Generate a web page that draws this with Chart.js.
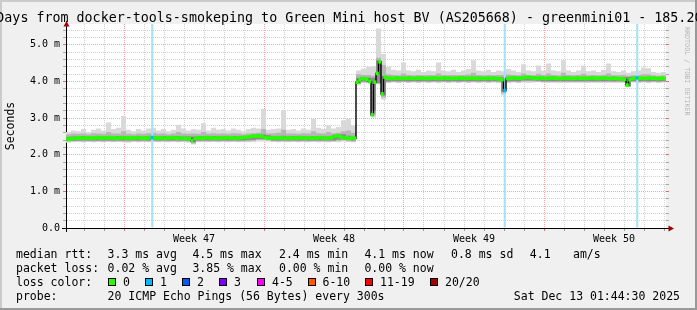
<!DOCTYPE html>
<html><head><meta charset="utf-8">
<script src="https://cdn.jsdelivr.net/npm/chart.js@4.4.1/dist/chart.umd.min.js"></script>
<style>
html,body{margin:0;padding:0;background:#f0f0f0;overflow:hidden;}
#wrap{position:relative;width:697px;height:310px;overflow:hidden;}
#c{position:absolute;left:0;top:0;}
.t{position:absolute;font-family:'DejaVu Sans Mono',monospace;color:#000;white-space:pre;}
.sw{position:absolute;width:7px;height:7px;border:1px solid #000;}
</style></head><body>
<div id="wrap"><canvas id="c" width="697" height="310"></canvas></div>
<script>
// ---------------- data ----------------
const titleText = 'Days from docker-tools-smokeping to Green Mini host BV (AS205668) - greenmini01 - 185.20';
const yAxisTitle = 'Seconds';
const weekLabels = ['Week 47', 'Week 48', 'Week 49', 'Week 50'];

// median RTT (ms), 240 samples over 30 days
const medianRtt = [
2.43,2.43,2.44,2.45,2.45,2.46,2.45,2.46,2.46,2.45,
2.46,2.46,2.47,2.46,2.45,2.46,2.46,2.47,2.46,2.46,
2.45,2.46,2.47,2.46,2.46,2.45,2.46,2.46,2.47,2.46,
2.46,2.45,2.46,2.47,2.47,2.46,2.45,2.46,2.46,2.45,
2.46,2.46,2.47,2.46,2.45,2.46,2.45,2.44,2.45,2.44,
2.38,2.45,2.46,2.46,2.45,2.46,2.47,2.46,2.46,2.45,
2.46,2.45,2.46,2.46,2.47,2.46,2.46,2.45,2.46,2.46,
2.47,2.48,2.48,2.49,2.51,2.51,2.51,2.51,2.50,2.47,
2.46,2.45,2.46,2.46,2.47,2.46,2.46,2.45,2.46,2.46,
2.45,2.46,2.46,2.47,2.46,2.45,2.46,2.46,2.45,2.46,
2.46,2.47,2.46,2.46,2.45,2.46,2.47,2.51,2.52,2.49,
2.47,2.46,2.46,2.45,2.46,2.45,
3.98,4.05,4.08,4.08,4.06,4.00,3.09,3.98,4.22,4.54,3.66,4.12,
4.09,4.09,4.08,4.09,4.10,4.09,4.08,4.09,4.09,4.10,
4.09,4.08,4.09,4.09,4.10,4.09,4.08,4.09,4.10,4.09,
4.09,4.08,4.09,4.10,4.09,4.09,4.08,4.09,4.09,4.10,
4.09,4.08,4.09,4.09,4.10,4.09,4.08,4.09,4.09,4.08,
4.09,4.09,4.08,4.09,4.08,4.07,4.05,
3.75,
4.08,4.09,4.09,4.10,4.09,4.09,4.10,4.11,4.12,4.11,
4.10,4.09,4.09,4.10,4.09,4.08,4.09,4.09,4.10,4.09,
4.09,4.08,4.09,4.10,4.09,4.09,4.08,4.09,4.10,4.09,
4.09,4.08,4.09,4.09,4.10,4.09,4.08,4.09,4.09,4.10,
4.09,4.08,4.09,4.09,4.08,4.08,4.07,4.06,
3.90,
4.05,4.08,4.09,4.10,4.09,4.09,4.08,4.09,4.10,4.09,4.09,4.08,4.09,4.09,4.08
];
// median samples that lost 1 of 20 pings
const lossSamples = [34, 175, 228];

// smoke (ms), 120 samples over 30 days
const smokeMax = [
2.62,2.66,2.64,2.70,2.62,2.68,2.72,2.66,2.88,2.70,
2.74,3.06,2.68,2.64,2.70,2.66,2.72,2.74,2.66,2.70,
2.64,2.68,2.82,2.72,2.66,2.70,2.68,2.86,2.66,2.74,
2.68,2.70,2.66,2.72,2.68,2.64,2.70,2.74,2.72,3.25,
2.68,2.70,2.72,3.22,2.68,2.70,2.66,2.72,2.68,2.98,
2.74,2.70,2.80,2.72,2.76,2.94,2.98,2.80,
4.30,4.35,4.40,4.42,5.45,4.75,4.40,4.32,4.30,4.52,
4.30,4.28,4.32,4.26,4.30,4.28,4.52,4.30,4.28,4.32,
4.26,4.30,4.34,4.58,4.30,4.28,4.32,4.26,4.30,4.28,
4.34,4.30,4.26,4.47,4.30,4.28,4.44,4.30,4.49,4.30,
4.28,4.58,4.30,4.26,4.30,4.44,4.28,4.30,4.26,4.32,
4.49,4.28,4.26,4.30,4.24,4.28,4.30,4.38,4.36,4.26,
4.24,4.26
];
const smokeHigh = [
2.56,2.58,2.57,2.58,2.56,2.59,2.58,2.57,2.62,2.58,
2.58,2.64,2.57,2.56,2.58,2.57,2.59,2.60,2.57,2.58,
2.56,2.58,2.62,2.58,2.57,2.58,2.57,2.62,2.57,2.59,
2.57,2.58,2.57,2.59,2.58,2.56,2.58,2.59,2.60,2.70,
2.58,2.59,2.60,2.68,2.58,2.58,2.57,2.59,2.58,2.64,
2.59,2.58,2.62,2.59,2.60,2.64,2.66,2.60,
4.20,4.18,4.18,4.16,4.65,4.45,4.20,4.18,4.17,4.22,
4.18,4.17,4.18,4.17,4.18,4.17,4.22,4.18,4.17,4.18,
4.17,4.18,4.19,4.24,4.18,4.17,4.18,4.17,4.18,4.18,
4.19,4.18,4.17,4.22,4.18,4.17,4.21,4.18,4.22,4.18,
4.17,4.24,4.18,4.17,4.18,4.21,4.17,4.18,4.17,4.18,
4.22,4.17,4.17,4.18,4.16,4.17,4.18,4.20,4.20,4.17,
4.16,4.17
];
const smokeCoreHigh = [
2.49,2.50,2.50,2.51,2.50,2.50,2.51,2.50,2.51,2.50,
2.51,2.51,2.50,2.50,2.51,2.50,2.51,2.51,2.50,2.51,
2.50,2.51,2.51,2.50,2.50,2.50,2.51,2.51,2.50,2.51,
2.50,2.51,2.50,2.51,2.50,2.50,2.51,2.53,2.55,2.55,
2.53,2.51,2.51,2.52,2.50,2.51,2.50,2.51,2.50,2.51,
2.51,2.51,2.50,2.51,2.55,2.56,2.52,2.50,
4.10,4.12,4.11,4.10,4.58,4.15,4.13,4.12,4.12,4.13,
4.12,4.12,4.13,4.12,4.12,4.13,4.12,4.12,4.13,4.12,
4.12,4.13,4.12,4.12,4.13,4.12,4.12,4.13,4.12,4.12,
4.13,4.12,4.12,4.14,4.15,4.14,4.13,4.12,4.12,4.13,
4.12,4.12,4.13,4.12,4.12,4.13,4.12,4.12,4.13,4.12,
4.12,4.13,4.12,4.12,4.12,4.13,4.12,4.12,4.13,4.12,
4.12,4.12
];
const smokeCoreLow = [
2.38,2.38,2.39,2.39,2.39,2.39,2.39,2.39,2.39,2.39,
2.39,2.39,2.39,2.39,2.39,2.39,2.39,2.39,2.39,2.39,
2.39,2.39,2.39,2.39,2.38,2.34,2.39,2.39,2.39,2.39,
2.39,2.39,2.39,2.39,2.39,2.39,2.40,2.41,2.43,2.43,
2.42,2.39,2.39,2.39,2.39,2.39,2.39,2.39,2.39,2.39,
2.39,2.39,2.39,2.39,2.41,2.42,2.40,2.39,
3.95,4.00,3.99,3.20,3.96,3.62,4.00,4.01,4.01,4.01,
4.01,4.01,4.01,4.01,4.01,4.01,4.01,4.01,4.01,4.01,
4.01,4.01,4.01,4.01,4.01,4.01,4.01,4.01,4.01,3.72,
4.01,4.01,4.01,4.03,4.03,4.03,4.02,4.01,4.01,4.01,
4.01,4.01,4.01,4.01,4.01,4.01,4.01,4.01,4.01,4.01,
4.01,4.01,4.01,4.01,3.87,4.01,4.01,4.01,4.01,4.01,
4.01,4.01
];
const smokeLow = [
2.36,2.37,2.37,2.36,2.37,2.36,2.37,2.36,2.37,2.36,
2.37,2.36,2.36,2.37,2.36,2.37,2.36,2.37,2.36,2.37,
2.36,2.37,2.36,2.37,2.36,2.31,2.36,2.37,2.36,2.37,
2.36,2.37,2.36,2.37,2.36,2.37,2.37,2.38,2.40,2.40,
2.39,2.37,2.36,2.37,2.36,2.37,2.36,2.37,2.36,2.37,
2.36,2.37,2.36,2.37,2.38,2.39,2.37,2.36,
3.93,3.98,3.97,3.10,3.94,3.56,3.98,3.99,3.98,3.99,
3.98,3.99,3.98,3.99,3.98,3.99,3.98,3.99,3.98,3.99,
3.98,3.99,3.98,3.99,3.98,3.99,3.98,3.99,3.98,3.68,
3.98,3.99,3.98,4.00,4.01,4.00,3.99,3.98,3.99,3.98,
3.99,3.98,3.99,3.98,3.99,3.98,3.99,3.98,3.99,3.98,
3.99,3.98,3.99,3.98,3.86,3.99,3.98,3.99,3.98,3.99,
3.98,3.99
];
const smokeMin = [
2.33,2.34,2.35,2.34,2.35,2.34,2.35,2.34,2.35,2.34,
2.35,2.34,2.33,2.35,2.34,2.35,2.34,2.35,2.34,2.35,
2.34,2.35,2.34,2.35,2.33,2.28,2.34,2.35,2.34,2.35,
2.34,2.35,2.34,2.35,2.34,2.35,2.34,2.35,2.36,2.36,
2.36,2.35,2.34,2.35,2.34,2.35,2.34,2.35,2.34,2.35,
2.34,2.35,2.34,2.35,2.34,2.36,2.35,2.34,
3.90,3.96,3.95,3.02,3.92,3.50,3.96,3.97,3.96,3.97,
3.96,3.97,3.96,3.97,3.96,3.97,3.96,3.97,3.96,3.97,
3.96,3.97,3.96,3.97,3.96,3.97,3.96,3.97,3.96,3.62,
3.96,3.97,3.96,3.97,3.96,3.97,3.98,3.97,3.96,3.97,
3.96,3.97,3.96,3.97,3.96,3.97,3.96,3.97,3.96,3.97,
3.96,3.97,3.96,3.97,3.84,3.97,3.96,3.97,3.96,3.97,
3.96,3.97
];

// legend texts
const rttStats = ['3.3 ms avg', '4.5 ms max', '2.4 ms min', '4.1 ms now', '0.8 ms sd', '4.1', 'am/s'];
const lossStats = ['0.02 % avg', '3.85 % max', '0.00 % min', '0.00 % now'];
const lossBuckets = ['0', '1', '2', '3', '4-5', '6-10', '11-19', '20/20'];
const lossColors = ['#26ff00', '#00b8ff', '#0059ff', '#7e00ff', '#ff00ff', '#ff5500', '#ff0000', '#a10000'];
const probeText = '20 ICMP Echo Pings (56 Bytes) every 300s';
const stampText = 'Sat Dec 13 01:44:30 2025';
const creditText = 'RRDTOOL / TOBI OETIKER';

// ---------------- axis setup ----------------
const DAYS = 30;          // window length (days)
const Y_MAX = 5.57;       // ms
const FIRST_MIDNIGHT = 0.9;  // days from window start
const FIRST_MONDAY = 2.9;
const r2 = v => Math.round(v * 100) / 100;
const dayTicks = []; for (let d = FIRST_MIDNIGHT; d < DAYS; d += 1) dayTicks.push(r2(d));
const weekCenters = weekLabels.map((_, k) => r2(FIRST_MONDAY + 3.5 + 7 * k));
const xTickValues = dayTicks.concat(weekCenters).sort((a, b) => a - b);
const yTickValues = []; for (let k = 0; k * 0.2 <= Y_MAX; k++) yTickValues.push(Math.round(k * 2) / 10);

const isWeekCenter = v => weekCenters.some(c => Math.abs(c - v) < 1e-6);
const isMonday = v => { const m = ((v - FIRST_MONDAY) % 7 + 7) % 7; return m < 1e-6 || m > 7 - 1e-6; };
const isInt = v => Math.abs(v - Math.round(v)) < 1e-6;
const MINOR = 'rgba(128,128,128,0.36)';
const MAJOR = 'rgba(255,0,0,0.36)';

// ---------------- datasets ----------------
const mStep = DAYS / medianRtt.length;
const sStep = DAYS / smokeMax.length;
const MEDIAN_HALF = 0.04;
const bandPts = arr => arr.map((v, j) => ({x: j * sStep, y: v})).concat([{x: DAYS, y: arr[arr.length - 1]}]);
const medianColors = medianRtt.map((v, i) => lossSamples.includes(i) ? lossColors[1] : lossColors[0]);
const band = (data, order, fill, color) => ({
  type: 'line', data: bandPts(data), order, fill: fill === null ? false : fill,
  backgroundColor: color, borderColor: 'rgba(0,0,0,0)', borderWidth: 1,
  pointRadius: 0, stepped: true, yAxisID: 'y'
});

const datasets = [
  { type: 'bar', data: medianRtt.map((v, i) => ({x: (i + 0.5) * mStep, y: [v - MEDIAN_HALF, v + MEDIAN_HALF]})),
    backgroundColor: medianColors, borderWidth: 0, grouped: false, barPercentage: 1, categoryPercentage: 1, order: 1, yAxisID: 'y' },
  { type: 'line', data: medianRtt.map((v, i) => ({x: (i + 0.5) * mStep, y: v})), stepped: 'middle',
    borderColor: '#000', borderWidth: 1.4, pointRadius: 0, fill: false, order: 2, yAxisID: 'y' },
  { type: 'bar', data: lossSamples.map(i => ({x: (i + 0.5) * mStep, y: [0, Y_MAX]})),
    backgroundColor: '#a6e2f6', borderWidth: 0, grouped: false, barPercentage: 0.85, categoryPercentage: 1, order: 3, yAxisID: 'y' },
  band(smokeCoreHigh, 4, 4, '#8c8c8c'),
  band(smokeCoreLow, 4, null, '#8c8c8c'),
  band(smokeHigh, 5, 6, '#b6b6b6'),
  band(smokeLow, 5, null, '#b6b6b6'),
  band(smokeMax, 6, 8, '#d9d9d9'),
  band(smokeMin, 6, null, '#d9d9d9')
];

// ---------------- frame / arrows plugin ----------------
const framePlugin = {
  id: 'frame',
  beforeDraw(chart) {
    const {ctx, chartArea: a} = chart;
    ctx.save();
    ctx.fillStyle = '#f0f0f0'; ctx.fillRect(0, 0, 697, 310);
    ctx.fillStyle = '#cbcbcb'; ctx.fillRect(0, 0, 697, 2); ctx.fillRect(0, 0, 2, 310);
    ctx.fillStyle = '#999999'; ctx.fillRect(0, 308, 697, 2); ctx.fillRect(695, 0, 2, 310);
    ctx.fillStyle = '#ffffff'; ctx.fillRect(a.left, a.top, a.right - a.left, a.bottom - a.top);
    ctx.restore();
  },
  afterDraw(chart) {
    const {ctx, chartArea: a} = chart;
    ctx.save();
    ctx.fillStyle = '#000';
    ctx.fillRect(a.left - 4, a.bottom, 4, 1);
    ctx.fillRect(a.right, a.bottom, 3, 1);
    ctx.fillRect(a.left, a.bottom, 1, 4);
    ctx.fillRect(a.left, a.top - 3, 1, 3);
    ctx.fillStyle = '#a00000';
    ctx.beginPath(); ctx.moveTo(a.left - 2.5, a.top + 2.5); ctx.lineTo(a.left + 3.5, a.top + 2.5); ctx.lineTo(a.left + 0.5, a.top - 3); ctx.closePath(); ctx.fill();
    ctx.beginPath(); ctx.moveTo(a.right + 2.5, a.bottom - 2.5); ctx.lineTo(a.right + 2.5, a.bottom + 3.5); ctx.lineTo(a.right + 8, a.bottom + 0.5); ctx.closePath(); ctx.fill();
    ctx.restore();
  }
};

Chart.defaults.font.family = "'DejaVu Sans Mono', monospace";
Chart.defaults.color = '#000';

new Chart(document.getElementById('c'), {
  type: 'line',
  data: { datasets },
  plugins: [framePlugin],
  options: {
    responsive: false, animation: false, events: [],
    layout: { padding: { left: 0, top: 24, right: 28, bottom: 0 } },
    plugins: { legend: { display: false }, tooltip: { enabled: false }, title: { display: false } },
    scales: {
      x: {
        type: 'linear', min: 0, max: DAYS, offset: false,
        afterBuildTicks: ax => { ax.ticks = xTickValues.map(v => ({value: v})); },
        afterFit: s => { s.height = 82; },
        ticks: { autoSkip: false, maxRotation: 0, minRotation: 0, padding: 2, color: '#000', font: { size: 10 },
          callback: v => { const k = weekCenters.findIndex(c => Math.abs(c - v) < 1e-6); return k >= 0 ? weekLabels[k] : ''; } },
        grid: { lineWidth: 1, tickLength: 3, offset: false,
          color: c => isWeekCenter(c.tick.value) ? 'rgba(0,0,0,0)' : (isMonday(c.tick.value) ? MAJOR : MINOR),
          tickColor: c => isWeekCenter(c.tick.value) ? 'rgba(0,0,0,0)' : (isMonday(c.tick.value) ? '#e07070' : '#999') },
        border: { display: true, color: '#000', width: 1, dash: [1, 1] }
      },
      y: {
        type: 'linear', min: 0, max: Y_MAX, position: 'left',
        afterBuildTicks: ax => { ax.ticks = yTickValues.map(v => ({value: v})); },
        afterFit: s => { s.width = 66; },
        ticks: { autoSkip: false, padding: 3, color: '#000', font: { size: 10 },
          callback: v => isInt(v) ? (Math.round(v) === 0 ? '0.0' : v.toFixed(1) + ' m') : '' },
        grid: { lineWidth: 1, tickLength: 3,
          color: c => isInt(c.tick.value) ? MAJOR : MINOR,
          tickColor: c => isInt(c.tick.value) ? '#e07070' : '#aaa' },
        border: { display: true, color: '#000', width: 1, dash: [1, 1] },
        title: { display: true, text: yAxisTitle, color: '#000', font: { size: 11.5 }, padding: { top: 4, bottom: 0 } }
      },
      y2: {
        type: 'linear', min: 0, max: Y_MAX, position: 'right',
        afterBuildTicks: ax => { ax.ticks = yTickValues.map(v => ({value: v})); },
        afterFit: s => { s.width = 3; },
        ticks: { display: false },
        grid: { drawOnChartArea: false, tickLength: 3,
          color: c => isInt(c.tick.value) ? MAJOR : MINOR,
          tickColor: c => isInt(c.tick.value) ? '#e07070' : '#aaa' },
        border: { display: false }
      }
    }
  }
});

// ---------------- text overlays ----------------
const wrap = document.getElementById('wrap');
function addText(txt, x, yc, size, extra) {
  const d = document.createElement('div');
  d.className = 't'; d.textContent = txt;
  const lh = Math.round(size * 1.2);
  d.style.fontSize = size + 'px'; d.style.lineHeight = lh + 'px';
  d.style.top = (yc - lh / 2) + 'px';
  if (extra && extra.right !== undefined) d.style.right = extra.right + 'px'; else d.style.left = x + 'px';
  wrap.appendChild(d);
  return d;
}
addText(titleText, -3.7, 18, 13.33);

const LEG = 11.5;
const rowY = [254, 268, 282, 296];
const colX = [107.6, 192.4, 279, 364.4, 451, 529.8, 573];
addText('median rtt:', 16, rowY[0], LEG);
rttStats.forEach((s, k) => addText(s, colX[k], rowY[0], LEG));
addText('packet loss:', 16, rowY[1], LEG);
lossStats.forEach((s, k) => addText(s, colX[k], rowY[1], LEG));
addText('loss color:', 16, rowY[2], LEG);
const swX = [108, 145, 182, 219, 257, 307.5, 365, 430];
lossBuckets.forEach((b, k) => {
  const s = document.createElement('div');
  s.className = 'sw'; s.style.width = '6px'; s.style.height = '6px';
  s.style.left = swX[k] + 'px'; s.style.top = (rowY[2] - 4) + 'px';
  s.style.background = lossColors[k];
  wrap.appendChild(s);
  addText(b, swX[k] + 15, rowY[2], LEG);
});
addText('probe:', 16, rowY[3], LEG);
addText(probeText, colX[0], rowY[3], LEG);
addText(stampText, 0, rowY[3], LEG, { right: 17 });

const cr = addText(creditText, 682.5, 0, 6.7);
cr.style.writingMode = 'vertical-rl';
cr.style.top = '27px';
cr.style.color = '#b4b4b4';
cr.style.lineHeight = '8px';
</script>
</body></html>
